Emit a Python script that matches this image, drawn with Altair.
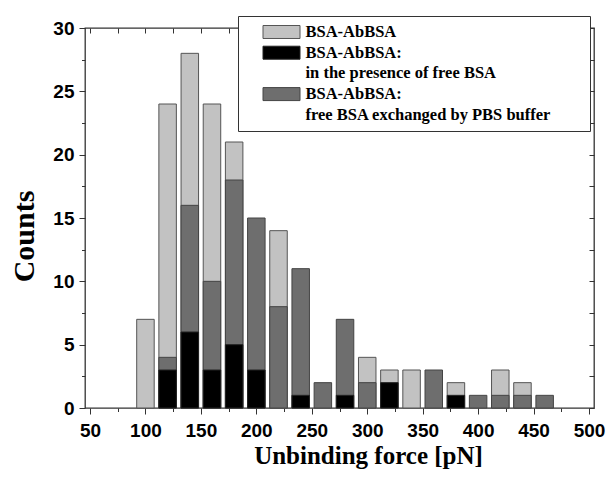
import altair as alt
import pandas as pd

# ---- data ----
force_centers = [100, 120, 140, 160, 180, 200, 220, 240, 260, 280, 300, 320, 340, 360, 380, 400, 420, 440, 460]
counts_bsa = [7, 24, 28, 24, 21, 0, 14, 0, 0, 0, 4, 3, 3, 0, 2, 0, 3, 2, 0]
counts_free_bsa = [0, 3, 6, 3, 5, 3, 0, 1, 0, 1, 0, 2, 0, 0, 1, 0, 0, 0, 0]
counts_pbs = [0, 4, 16, 10, 18, 15, 8, 11, 2, 7, 2, 0, 0, 3, 0, 1, 1, 1, 1]

S1 = "BSA-AbBSA"
S2 = "BSA-AbBSA: in the presence of free BSA"
S3 = "BSA-AbBSA: free BSA exchanged by PBS buffer"
C2 = "in the presence of free BSA"
C3 = "free BSA exchanged by PBS buffer"

x_major = [50, 100, 150, 200, 250, 300, 350, 400, 450, 500]
x_minor = [75, 125, 175, 225, 275, 325, 375, 425, 475]
x_all = [50, 75, 100, 125, 150, 175, 200, 225, 250, 275, 300, 325, 350, 375, 400, 425, 450, 475, 500]
y_major = [0, 5, 10, 15, 20, 25, 30]
y_minor = [2.5, 7.5, 12.5, 17.5, 22.5, 27.5]
y_all = [0, 2.5, 5, 7.5, 10, 12.5, 15, 17.5, 20, 22.5, 25, 27.5, 30]

rows = []
for series, vals in [(S1, counts_bsa), (S3, counts_pbs), (S2, counts_free_bsa)]:
    for f, c in zip(force_centers, vals):
        if c > 0:
            rows.append({"force": f, "count": c, "series": series})
df = pd.DataFrame(rows)

legend_domain = [S1, S2, C2, S3, C3]
fill_range = ["#c2c2c2", "#000000", "transparent", "#6e6e6e", "transparent"]
stroke_range = ["#555555", "#222222", "transparent", "#444444", "transparent"]

xscale = alt.Scale(domain=[50, 500], nice=False, zero=False)
yscale = alt.Scale(domain=[0, 30], nice=False)

legend = alt.Legend(
    title=" ",
    titleOrient="right",
    titlePadding=33,
    titleFontSize=10,
    orient="none",
    legendX=153,
    legendY=-12,
    strokeColor="#333333",
    fillColor="white",
    padding=6,
    clipHeight=20,
    rowPadding=0.7,
    symbolType="M-1,-0.351L1,-0.351L1,0.351L-1,0.351Z",
    symbolSize=1369,
    symbolOffset=18.5,
    symbolStrokeWidth=1,
    symbolOpacity=1,
    labelOffset=5,
    labelFont="Liberation Serif",
    labelFontWeight="bold",
    labelFontSize=16.5,
    labelColor="black",
    labelBaseline="middle",
    labelLimit=400,
    labelExpr="indexof(datum.label, ': ') > 0 ? split(datum.label, ': ')[0] + ':' : datum.label",
)

bars = alt.Chart(df).mark_bar(size=17.5, strokeWidth=1).encode(
    x=alt.X(
        "force:Q",
        scale=xscale,
        axis=alt.Axis(
            orient="bottom",
            values=x_major,
            domain=False,
            grid=False,
            tickSize=6,
            tickColor="#333333",
            tickWidth=1,
            labelFont="Liberation Sans",
            labelFontWeight="bold",
            labelFontSize=19,
            labelColor="black",
            labelPadding=7,
            labelFlush=False,
            labelOverlap=False,
            labelBound=False,
            title="Unbinding force [pN]",
            titleFont="Liberation Serif",
            titleFontWeight="bold",
            titleFontSize=25,
            titleColor="black",
            titleX=283,
            titleY=55,
            titleAlign="center",
            titleBaseline="alphabetic",
        ),
    ),
    y=alt.Y(
        "count:Q",
        scale=yscale,
        stack=None,
        axis=alt.Axis(
            orient="left",
            values=y_major,
            domain=False,
            grid=False,
            tickSize=6,
            tickColor="#333333",
            tickWidth=1,
            labelFont="Liberation Sans",
            labelFontWeight="bold",
            labelFontSize=19,
            labelColor="black",
            labelPadding=5,
            labelOverlap=False,
            labelBound=False,
            labelFlush=False,
            title="Counts",
            titleFont="Liberation Serif",
            titleFontWeight="bold",
            titleFontSize=30,
            titleColor="black",
            titleAngle=270,
            titleX=-52,
            titleY=208,
            titleAlign="center",
            titleBaseline="alphabetic",
        ),
    ),
    fill=alt.Fill("series:N", scale=alt.Scale(domain=legend_domain, range=fill_range), legend=legend),
    stroke=alt.Stroke("series:N", scale=alt.Scale(domain=legend_domain, range=stroke_range), legend=legend),
)

minor = alt.Chart(df).mark_point(opacity=0).encode(
    x=alt.X(
        "force:Q",
        scale=xscale,
        axis=alt.Axis(orient="bottom", values=x_minor, domain=False, grid=False, labels=False,
                      tickSize=3.5, tickColor="#333333", title=None),
    ),
    y=alt.Y(
        "count:Q",
        scale=yscale,
        axis=alt.Axis(orient="left", values=y_minor, domain=False, grid=False, labels=False,
                      tickSize=3.5, tickColor="#333333", title=None),
    ),
)

mirror = alt.Chart(df).mark_point(opacity=0).encode(
    x=alt.X(
        "force:Q",
        scale=xscale,
        axis=alt.Axis(orient="top", values=x_all, domain=False, grid=False, labels=False,
                      tickSize=5, offset=-5, tickColor="#333333", title=None),
    ),
    y=alt.Y(
        "count:Q",
        scale=yscale,
        axis=alt.Axis(orient="right", values=y_all, domain=False, grid=False, labels=False,
                      tickSize=5, offset=-5, tickColor="#333333", title=None),
    ),
)

chart = (
    alt.layer(bars, minor, mirror)
    .resolve_axis(x="independent", y="independent")
    .properties(
        width=509,
        height=380,
        padding={"left": 85, "top": 28, "right": 18, "bottom": 81},
        autosize=alt.AutoSizeParams(type="none"),
        background="white",
    )
    .configure_view(stroke="#333333", strokeWidth=1.3)
)

chart.save("out.html", embed_options={"renderer": "svg", "actions": False})
